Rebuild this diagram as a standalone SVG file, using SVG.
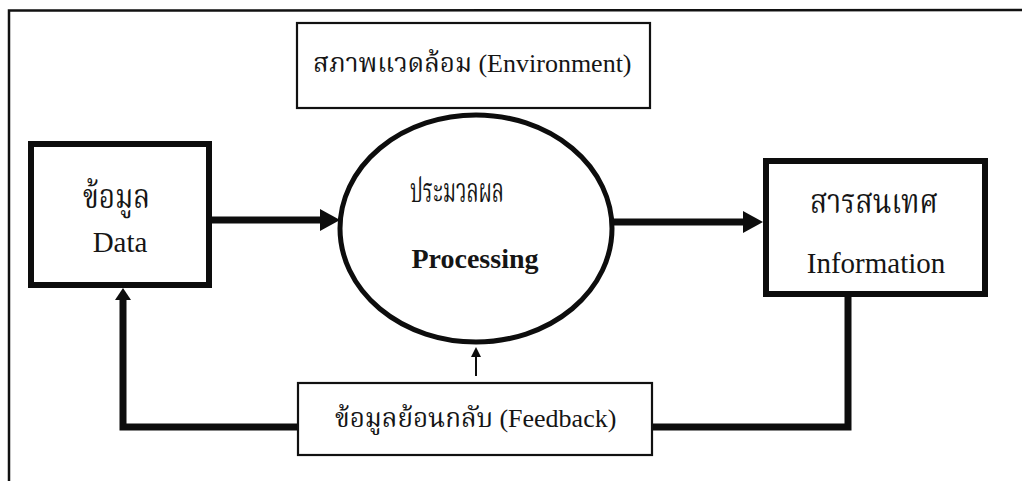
<svg xmlns="http://www.w3.org/2000/svg" width="1022" height="481" viewBox="0 0 1022 481">
  <style>
    .thin { fill: #ffffff; stroke: #111111; stroke-width: 2.2; }
    .thick { fill: #ffffff; stroke: #0d0d0d; stroke-width: 6; }
    .conn { fill: none; stroke: #0d0d0d; stroke-width: 7; stroke-linejoin: miter; }
    .tconn { fill: none; stroke: #0d0d0d; stroke-width: 2; }
    .en { font-family: "Liberation Serif", "Noto Serif Thai", "Noto Sans Thai", "DejaVu Serif", serif; fill: #151515; }
    .th { font-family: "Noto Serif Thai", "Noto Sans Thai", "Liberation Serif", "DejaVu Sans", serif; fill: #151515; }
    .mix { font-family: "Liberation Serif", "Noto Serif Thai", "Noto Sans Thai", "DejaVu Sans", serif; fill: #151515; font-size: 26px; }
  </style>
  <defs>
    <marker id="bigHead" markerUnits="userSpaceOnUse" markerWidth="20" markerHeight="22" refX="8" refY="11" orient="auto">
      <path d="M0,0 L20,11 L0,22 z" fill="#0d0d0d"/>
    </marker>
    <marker id="midHead" markerUnits="userSpaceOnUse" markerWidth="12" markerHeight="16" refX="4" refY="8" orient="auto">
      <path d="M0,0 L12,8 L0,16 z" fill="#0d0d0d"/>
    </marker>
    <marker id="smallHead" markerUnits="userSpaceOnUse" markerWidth="10" markerHeight="10" refX="3" refY="5" orient="auto">
      <path d="M0,0 L10,5 L0,10 z" fill="#0d0d0d"/>
    </marker>
  </defs>
  <rect x="0" y="0" width="1022" height="481" fill="#ffffff"/>
  <!-- outer frame -->
  <path d="M9,481 L9,10.5 L1022,10" fill="none" stroke="#111111" stroke-width="2.5"/>

  <g id="connectors">
    <line class="conn" x1="212" y1="220" x2="328" y2="220" marker-end="url(#bigHead)"/>
    <line class="conn" x1="612" y1="222" x2="751" y2="222" marker-end="url(#bigHead)"/>
    <polyline class="conn" points="848,294 848,427 652,427"/>
    <polyline class="conn" points="298,427 123,427 123,296" marker-end="url(#midHead)"/>
    <line class="tconn" x1="476" y1="376" x2="476" y2="354" marker-end="url(#smallHead)"/>
  </g>

  <g id="environment">
    <rect class="thin" x="297" y="23" width="353" height="85"/>
    <text class="mix" x="313" y="72">สภาพแวดล้อม (Environment)</text>
  </g>

  <g id="data">
    <rect class="thick" x="31" y="144" width="178" height="141"/>
    <text class="th" x="83" y="208" font-size="33" textLength="67" lengthAdjust="spacingAndGlyphs">ข้อมูล</text>
    <text class="en" x="120" y="252" font-size="29" text-anchor="middle">Data</text>
  </g>

  <g id="processing">
    <ellipse cx="476" cy="228.5" rx="136" ry="113.5" fill="#ffffff" stroke="#0d0d0d" stroke-width="5"/>
    <text class="th" x="410" y="202" font-size="33" textLength="94" lengthAdjust="spacingAndGlyphs">ประมวลผล</text>
    <text class="en" x="475" y="268" font-size="28" font-weight="bold" text-anchor="middle">Processing</text>
  </g>

  <g id="information">
    <rect class="thick" x="766" y="161" width="219" height="133"/>
    <text class="th" x="810" y="213" font-size="33" textLength="128" lengthAdjust="spacingAndGlyphs">สารสนเทศ</text>
    <text class="en" x="876" y="273" font-size="29" text-anchor="middle">Information</text>
  </g>

  <g id="feedback">
    <rect class="thin" x="298" y="383" width="354" height="72"/>
    <text class="mix" x="335" y="427">ข้อมูลย้อนกลับ (Feedback)</text>
  </g>
</svg>
